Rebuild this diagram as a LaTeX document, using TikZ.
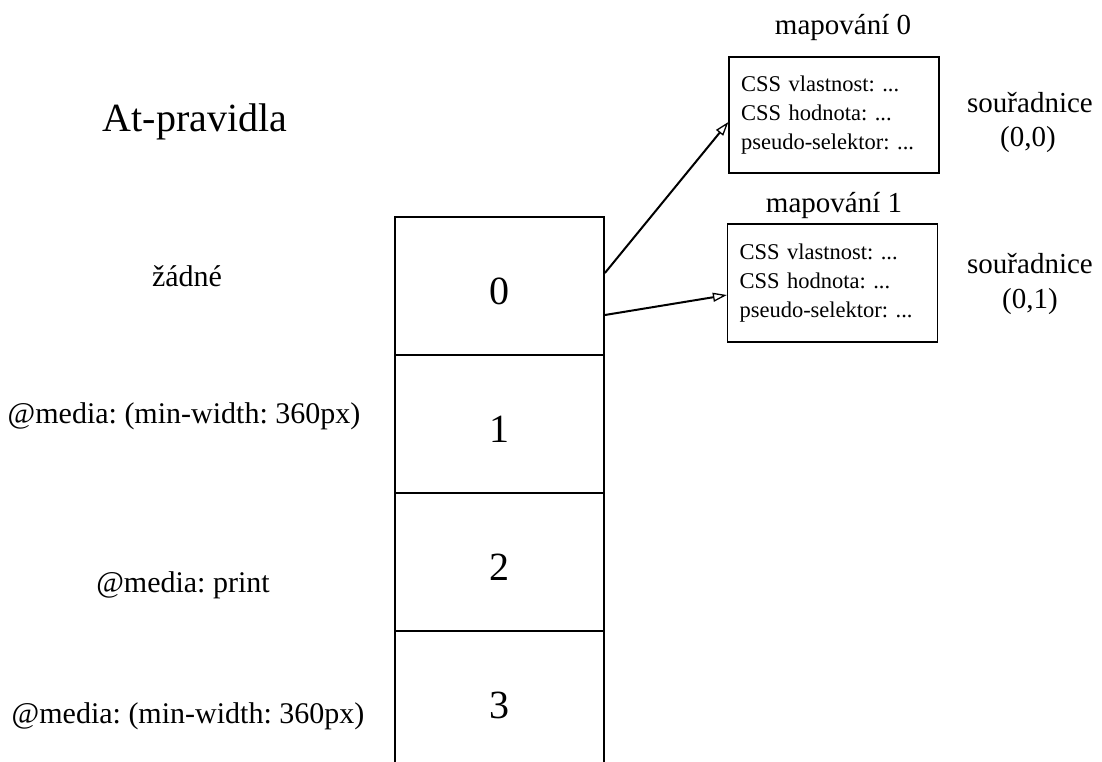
\documentclass[tikz,border=0pt]{standalone}
\usepackage{fontspec}
\setmainfont{Liberation Serif}
\frenchspacing
\usetikzlibrary{arrows.meta}
\tikzset{
  cell/.style={draw, line width=1.8pt, minimum width=209pt, minimum height=138pt, inner sep=0pt, text height=37pt, text depth=0pt, font=\fontsize{40}{48}\selectfont},
  mapbox/.style={draw, line width=1.2pt, minimum width=210pt, minimum height=116pt, text width=186pt, inner xsep=12pt, align=left, font=\fontsize{22.5}{29}\selectfont},
  big/.style={font=\fontsize{40}{48}\selectfont, inner sep=0pt},
  lbl/.style={font=\fontsize{30}{36}\selectfont, inner sep=0pt, anchor=base},
  captxt/.style={font=\fontsize{29}{35}\selectfont, inner sep=0pt, anchor=base},
  conn/.style={line width=2pt, -{Triangle[open, length=14pt, width=9pt, line width=1.3pt]}}
}
\begin{document}
\begin{tikzpicture}[x=1pt, y=-1pt]
\useasboundingbox (0,0) rectangle (1102,762);
\clip (0,0) rectangle (1102,762);
% title
\node[big, anchor=base] (title) at (195,132) {At-pravidla};
% column of cells
\node[cell] (c0) at (499.5,286) {0};
\node[cell] (c1) at (499.5,424) {1};
\node[cell] (c2) at (499.5,562) {2};
\node[cell] (c3) at (499.5,700) {3};
% row labels
\node[lbl] (l0) at (187,286) {žádné};
\node[lbl] (l1) at (184,423) {@media: (min-width: 360px)};
\node[lbl] (l2) at (183,592) {@media: print};
\node[lbl] (l3) at (188,723) {@media: (min-width: 360px)};
% mapping boxes
\node[captxt] (t0) at (843,35) {mapování 0};
\node[mapbox] (m0) at (834,115) {CSS vlastnost: ...\\CSS hodnota: ...\\pseudo-selektor: ...};
\node[captxt] (t1) at (834,212) {mapování 1};
\node[mapbox, minimum height=118pt] (m1) at (832.5,283) {CSS vlastnost: ...\\CSS hodnota: ...\\pseudo-selektor: ...};
% coordinates
\node[captxt] (s0) at (1030,113) {souřadnice};
\node[captxt] (p0) at (1028,147) {(0,0)};
\node[captxt] (s1) at (1030,273) {souřadnice};
\node[captxt] (p1) at (1030,308) {(0,1)};
% connectors
\draw[conn] ([yshift=13pt]c0.east) -- ([yshift=-7pt]m0.west);
\draw[conn] ([yshift=-29pt]c0.east) -- ([yshift=-12pt]m1.west);
\end{tikzpicture}
\end{document}
